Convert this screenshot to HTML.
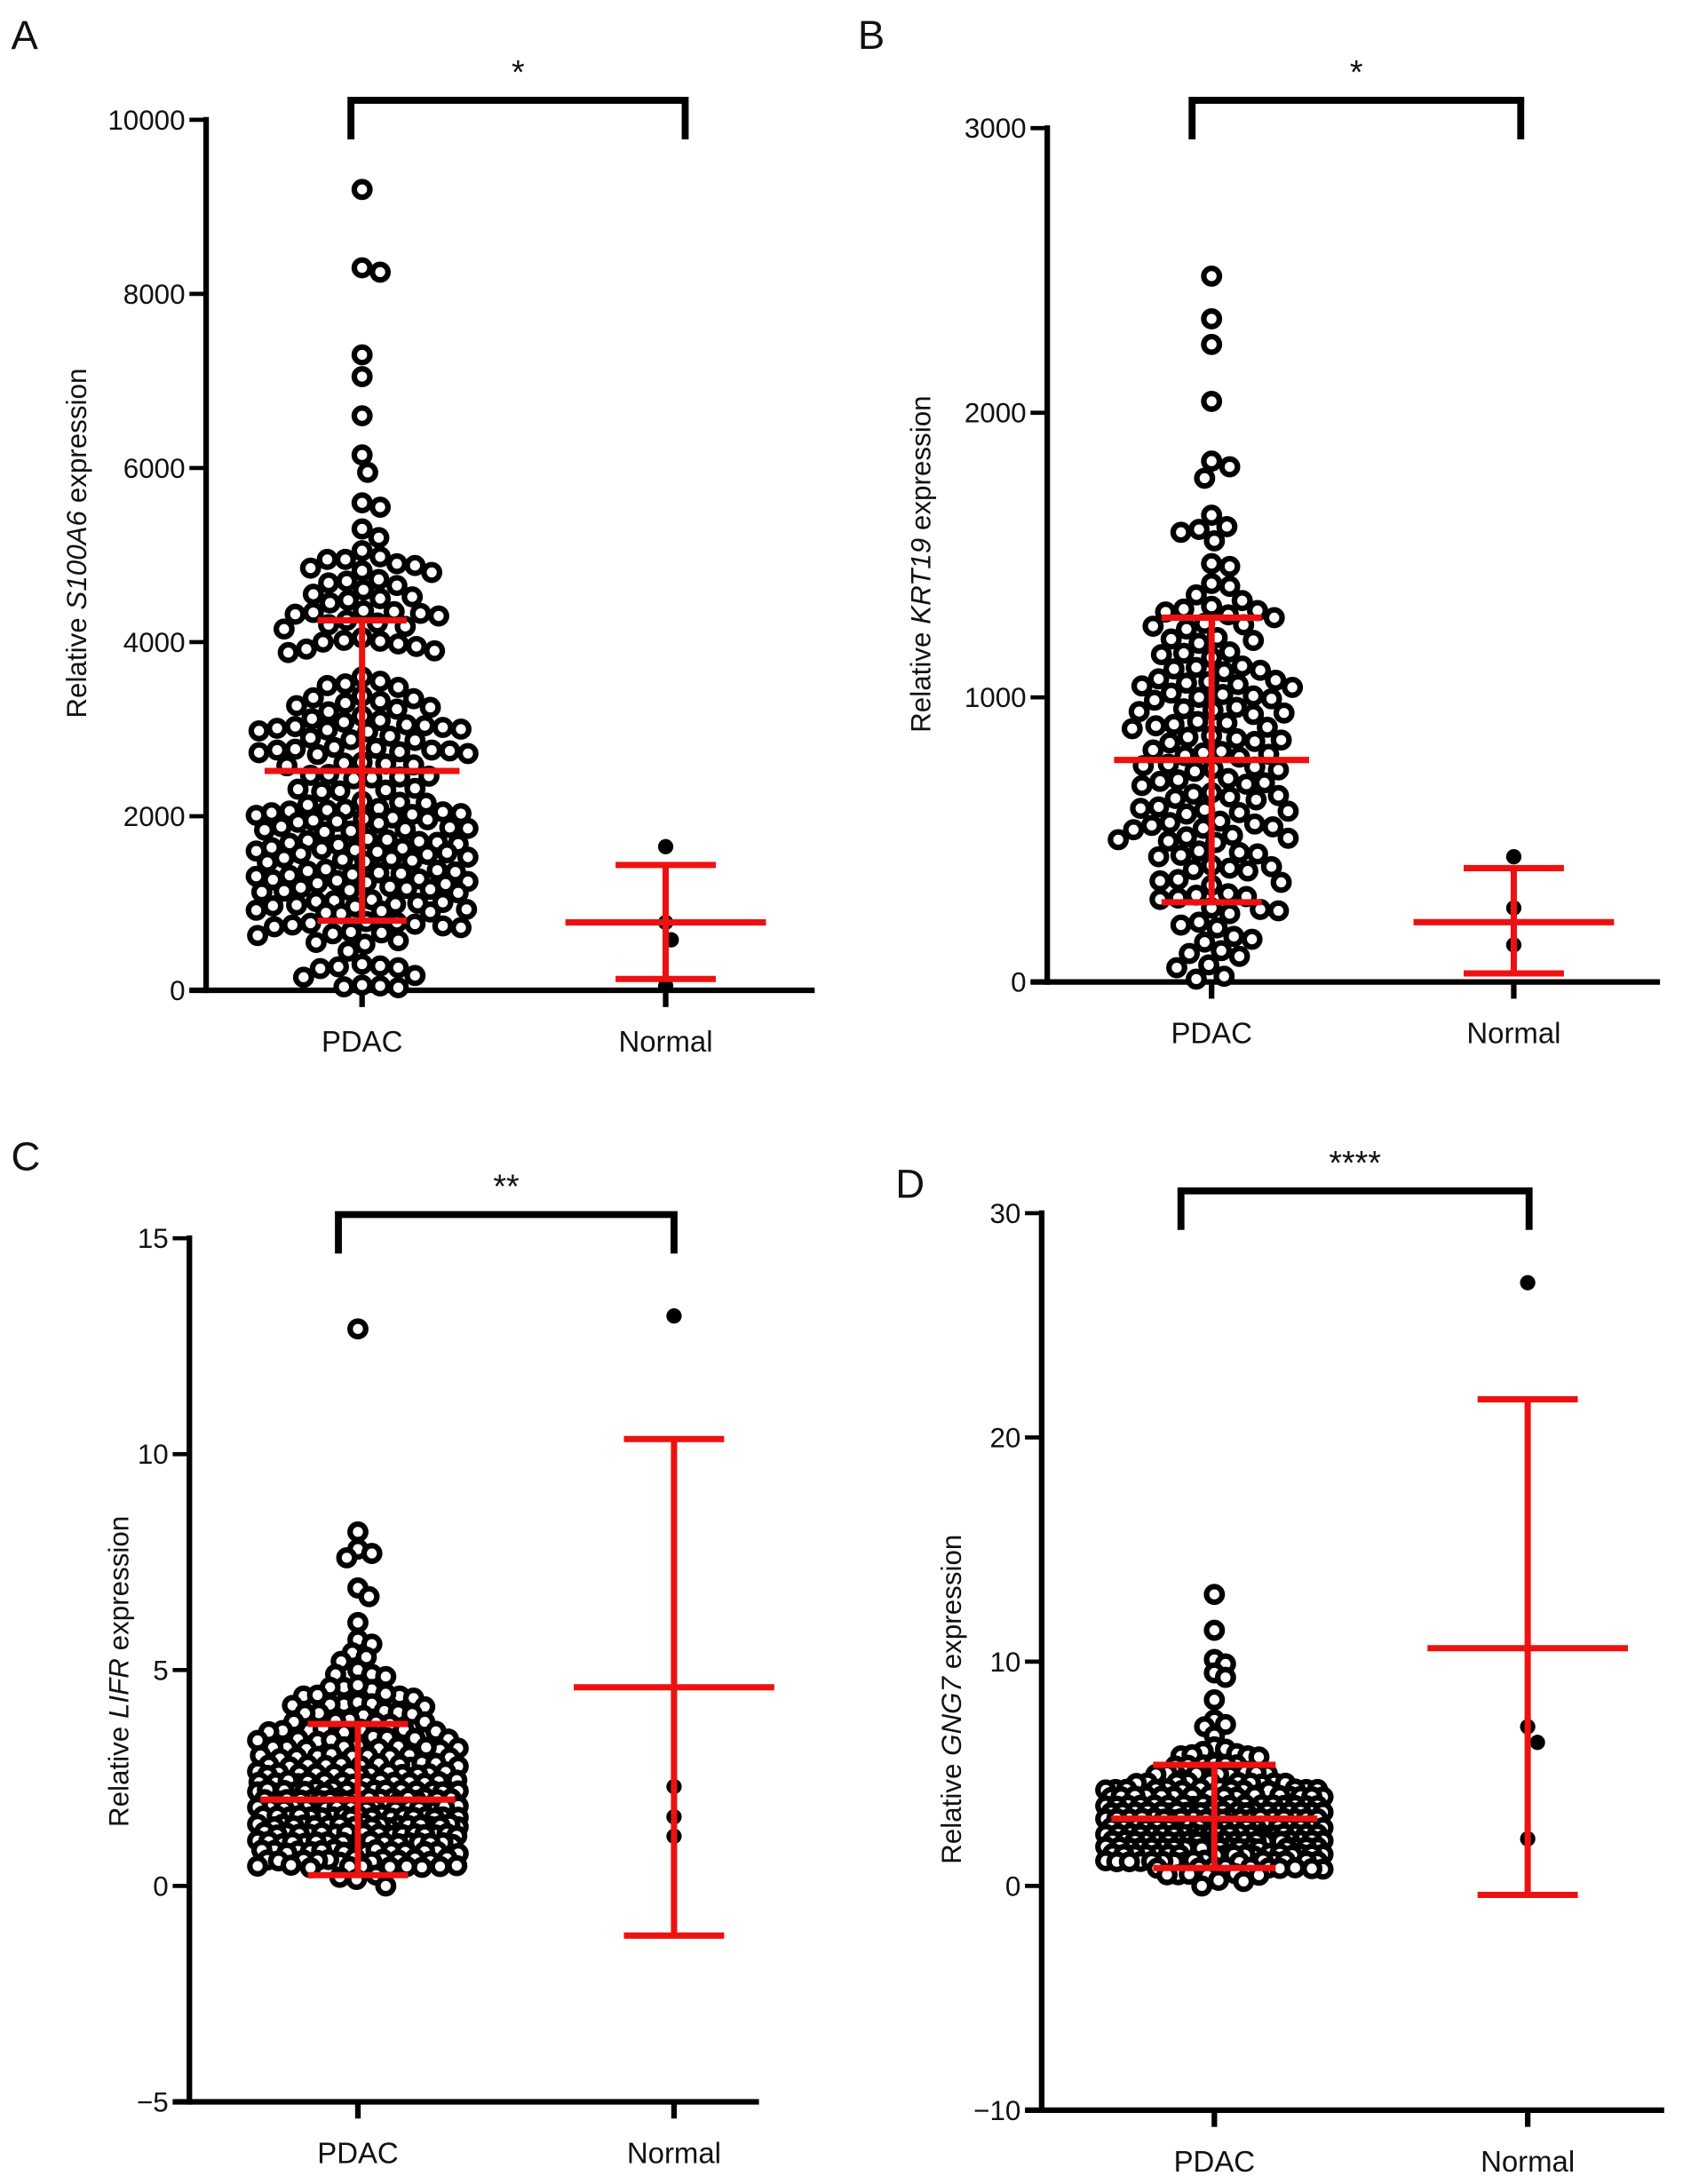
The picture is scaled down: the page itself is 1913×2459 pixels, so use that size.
<!DOCTYPE html>
<html><head><meta charset="utf-8"><style>
html,body{margin:0;padding:0;background:#fff}
svg{display:block}
text{font-family:"Liberation Sans",Arial,sans-serif;fill:#111}
</style></head><body>
<svg id="fig" xmlns="http://www.w3.org/2000/svg" width="1913" height="2459" viewBox="0 0 1220 1568" preserveAspectRatio="none"></svg>
<script>
// ---------- DATA ----------
const categories = ["PDAC","Normal"];
const pdacA = [9200,8250,8300,7300,7050,6600,6150,5950,5600,5550,5300,5200,5050,
4950,4950,4900,4980,4850,4820,4800,4880,4700,4650,4720,4680,4600,4500,4520,4480,4550,4450,4350,4330,4300,4360,4320,4340,4200,4250,4180,4220,4150,4000,4020,3980,4050,3950,4010,3900,3880,3920,3600,3550,3500,3520,3480,3350,3380,3320,3360,3300,3250,3230,3270,3200,3100,3120,3080,3150,3000,3020,2980,3050,3010,2990,3030,2970,3040,2900,2880,2920,2870,2750,2770,2730,2760,2740,2780,2720,2790,2710,2760,2600,2620,2580,2610,2590,2450,2470,2430,2460,2440,2480,2300,2320,2280,2310,2290,2150,2170,2130,2160,2050,2070,2030,2060,2040,2080,2020,2090,2010,1950,1970,1930,1960,1940,1980,1920,1850,1870,1830,1860,1840,1880,1820,1700,1720,1680,1710,1690,1730,1670,1740,1600,1620,1580,1610,1590,1630,1570,1640,1560,1500,1520,1480,1510,1490,1530,1470,1350,1370,1330,1360,1340,1380,1320,1390,1310,1250,1270,1230,1260,1240,1280,1220,1150,1170,1130,1160,1140,1180,1120,1190,1000,1020,980,1010,990,1030,970,1040,960,900,920,880,910,890,930,750,770,730,760,740,780,720,790,650,670,630,660,550,570,530,450,300,280,260,250,270,150,170,50,30,60,40];
const normalA = [1650,780,580,50];
const meanA = [2520,800,4250];      // PDAC mean, -SD, +SD
const meanNA = [780,130,1440];      // Normal mean, -SD, +SD

const pdacB = [2480,2330,2240,2040,1830,1810,1770,1640,1600,1590,1580,1550,1470,1460,1400,1390,1360,1340,
1300,1310,1290,1320,1280,1305,1250,1260,1240,1255,1200,1210,1190,1205,1150,1160,1140,1155,1100,1110,1090,1105,1095,1050,1060,1040,1055,1045,1065,1035,1000,1010,990,1005,995,1015,950,960,940,955,945,965,900,910,890,905,895,915,850,860,840,855,845,865,800,810,790,805,795,815,750,760,740,755,745,765,700,710,690,705,695,715,650,660,640,655,645,665,600,610,590,605,595,615,550,560,540,555,545,565,535,500,510,490,505,495,515,450,460,440,455,445,400,410,390,405,395,350,360,340,355,300,310,290,305,295,250,260,240,255,200,210,190,150,160,140,100,110,90,50,60,20,10];
const normalB = [440,260,130];
const meanB = [780,280,1280];
const meanNB = [210,30,400];

const pdacC = [12.9,8.2,7.8,7.7,7.6,6.9,6.7,6.1,5.7,5.6,5.4,5.3,5.2,5.0,4.9,4.9,4.85,4.6,4.6,4.55,4.65,4.4,4.4,4.35,4.45,4.42,4.2,4.2,4.15,4.25,4.22,4.18,4.0,4.0,3.95,4.05,4.02,3.98,3.8,3.8,3.75,3.85,3.82,3.78,3.6,3.6,3.55,3.65,3.62,3.58,3.63,3.57,3.4,3.4,3.35,3.45,3.42,3.38,3.43,3.37,3.2,3.2,3.15,3.25,3.22,3.18,3.23,3.17,3.21,3.19,3.0,3.0,2.95,3.05,3.02,2.98,3.03,2.97,3.01,2.99,2.8,2.8,2.75,2.85,2.82,2.78,2.83,2.77,2.81,2.79,2.84,2.76,2.6,2.6,2.55,2.65,2.62,2.58,2.63,2.57,2.61,2.59,2.64,2.56,2.6,2.6,2.4,2.4,2.35,2.45,2.42,2.38,2.43,2.37,2.41,2.39,2.44,2.36,2.4,2.4,2.42,2.38,2.2,2.2,2.15,2.25,2.22,2.18,2.23,2.17,2.21,2.19,2.24,2.16,2.2,2.2,2.22,2.18,2.21,2.19,2.0,2.0,1.95,2.05,2.02,1.98,2.03,1.97,2.01,1.99,2.04,1.96,2.0,2.0,2.02,1.98,2.01,1.99,2.03,1.97,1.8,1.8,1.75,1.85,1.82,1.78,1.83,1.77,1.81,1.79,1.84,1.76,1.8,1.8,1.82,1.78,1.81,1.79,1.83,1.77,1.6,1.6,1.55,1.65,1.62,1.58,1.63,1.57,1.61,1.59,1.64,1.56,1.6,1.6,1.62,1.58,1.61,1.59,1.63,1.57,1.4,1.4,1.35,1.45,1.42,1.38,1.43,1.37,1.41,1.39,1.44,1.36,1.4,1.4,1.42,1.38,1.41,1.39,1.43,1.37,1.2,1.2,1.15,1.25,1.22,1.18,1.23,1.17,1.21,1.19,1.24,1.16,1.2,1.2,1.22,1.18,1.21,1.19,1.0,1.0,0.95,1.05,1.02,0.98,1.03,0.97,1.01,0.99,1.04,0.96,1.0,1.0,1.02,0.98,1.01,0.99,0.8,0.8,0.75,0.85,0.82,0.78,0.83,0.77,0.81,0.79,0.84,0.76,0.8,0.8,0.82,0.6,0.6,0.55,0.65,0.62,0.58,0.63,0.57,0.61,0.59,0.64,0.56,0.6,0.45,0.45,0.42,0.48,0.46,0.44,0.47,0.43,0.45,0.45,0.2,0.25,0.15,0.0];
const normalC = [13.2,2.3,1.6,1.15];
const meanC = [2.0,0.25,3.75];
const meanNC = [4.6,-1.15,10.35];

const pdacD = [13.0,11.4,10.1,9.9,9.5,9.3,8.3,7.4,7.2,7.1,6.7,6.2,6.1,6.0,5.9,5.8,5.8,5.75,5.85,5.4,5.4,5.35,5.45,5.42,5.38,5.0,5.0,4.95,5.05,5.02,4.98,5.03,4.97,4.6,4.6,4.55,4.65,4.62,4.58,4.63,4.57,4.61,4.59,4.3,4.3,4.25,4.35,4.32,4.28,4.33,4.27,4.31,4.29,4.34,4.26,4.3,4.3,4.0,4.0,3.95,4.05,4.02,3.98,4.03,3.97,4.01,3.99,4.04,3.96,4.0,4.0,4.02,3.98,3.6,3.6,3.55,3.65,3.62,3.58,3.63,3.57,3.61,3.59,3.64,3.56,3.6,3.6,3.62,3.58,3.61,3.59,3.3,3.3,3.25,3.35,3.32,3.28,3.33,3.27,3.31,3.29,3.34,3.26,3.3,3.3,3.32,3.28,3.31,3.29,3.33,3.27,3.0,3.0,2.95,3.05,3.02,2.98,3.03,2.97,3.01,2.99,3.04,2.96,3.0,3.0,3.02,2.98,3.01,2.99,3.03,2.97,3.0,3.0,2.6,2.6,2.55,2.65,2.62,2.58,2.63,2.57,2.61,2.59,2.64,2.56,2.6,2.6,2.62,2.58,2.61,2.59,2.63,2.57,2.6,2.6,2.3,2.3,2.25,2.35,2.32,2.28,2.33,2.27,2.31,2.29,2.34,2.26,2.3,2.3,2.32,2.28,2.31,2.29,2.33,2.27,2.3,2.3,2.0,2.0,1.95,2.05,2.02,1.98,2.03,1.97,2.01,1.99,2.04,1.96,2.0,2.0,2.02,1.98,2.01,1.99,2.03,1.97,2.0,2.0,1.7,1.7,1.65,1.75,1.72,1.68,1.73,1.67,1.71,1.69,1.74,1.66,1.7,1.7,1.72,1.68,1.71,1.69,1.73,1.67,1.4,1.4,1.35,1.45,1.42,1.38,1.43,1.37,1.41,1.39,1.44,1.36,1.4,1.4,1.42,1.38,1.41,1.39,1.1,1.1,1.05,1.15,1.12,1.08,1.13,1.07,1.11,1.09,1.14,1.06,1.1,1.1,1.12,1.08,0.8,0.8,0.75,0.85,0.82,0.78,0.83,0.77,0.81,0.79,0.5,0.5,0.45,0.55,0.52,0.48,0.2,0.25,0.0];
const normalD = [26.9,7.1,6.4,2.1];
const meanD = [3.0,0.8,5.4];
const meanND = [10.6,-0.4,21.7];

const ticksA = [0,2000,4000,6000,8000,10000];
const ticksB = [0,1000,2000,3000];
const ticksC = [-5,0,5,10,15];
const ticksD = [-10,0,10,20,30];
const tickLabelsC = ["\u22125","0","5","10","15"];
const tickLabelsD = ["\u221210","0","10","20","30"];

// ---------- DRAWING ----------
const NS = "http://www.w3.org/2000/svg";
const svg = document.getElementById("fig");
function mk(tag, attrs, parent){
  const e = document.createElementNS(NS, tag);
  for (const k in attrs) e.setAttribute(k, attrs[k]);
  (parent||svg).appendChild(e);
  return e;
}

function swarm(values, yScale, cx, spacing, maxHalf){
  const placed = [];
  const order = values.map((v,i)=>i).sort((a,b)=>values[b]-values[a]);
  const out = new Array(values.length);
  for (const i of order){
    const y = yScale(values[i]);
    let best = null, bestD = -1;
    const cands = [0];
    for (let o=1; o<=maxHalf; o+=1){ cands.push(o); cands.push(-o); }
    for (const dx of cands){
      let minD = 1e9;
      for (const p of placed){
        if (Math.abs(p[1]-y) >= spacing) continue;
        const d = Math.hypot(p[0]-dx, p[1]-y);
        if (d < minD) minD = d;
      }
      if (minD >= spacing){ best = dx; bestD = 1e9; break; }
      if (minD > bestD){ bestD = minD; best = dx; }
    }
    placed.push([best, y]);
    out[i] = [cx+best, y];
  }
  return out;
}

function panel(cfg){
  const g = mk("g", {});
  
  
  const y = v => cfg.y0 + (v - cfg.ymin) / (cfg.ymax - cfg.ymin) * (cfg.y1 - cfg.y0);
  const xc = [cfg.xP, cfg.xN];

  const L = mk("text", {x:cfg.lx, y:cfg.ly, "font-size":29}, g);
  L.textContent = cfg.letter;
  
  

  const ya = mk("line", {x1:cfg.ax, y1:y(cfg.ymax)-2, x2:cfg.ax, y2:y(cfg.ymin)+2, stroke:"#000","stroke-width":4}, g);
  
  
  const xa = mk("line", {x1:cfg.ax-12, y1:y(cfg.ymin), x2:cfg.axEnd, y2:y(cfg.ymin), stroke:"#000","stroke-width":4}, g);
  
  

  cfg.ticks.forEach((t,i)=>{
    const tl = mk("line", {x1:cfg.ax-12, y1:y(t), x2:cfg.ax, y2:y(t), stroke:"#000","stroke-width":3}, g);
    
    
    const tx = mk("text", {x:cfg.ax-15, y:y(t)+7, "font-size":20, "text-anchor":"end"}, g);
    tx.textContent = cfg.tickLabels ? cfg.tickLabels[i] : String(t);
    
    
  });

  categories.forEach((c,i)=>{
    const tl = mk("line", {x1:xc[i], y1:y(cfg.ymin), x2:xc[i], y2:y(cfg.ymin)+12, stroke:"#000","stroke-width":4}, g);
    
    
    const tx = mk("text", {x:xc[i], y:y(cfg.ymin)+44, "font-size":21, "text-anchor":"middle"}, g);
    tx.textContent = c;
    
    
  });

  const tt = mk("text", {x:0, y:0, "font-size":20, "text-anchor":"middle", transform:`translate(${cfg.tx},${cfg.ty}) rotate(-90)`}, g);
  
  
  tt.appendChild(document.createTextNode("Relative "));
  const it = mk("tspan", {"font-style":"italic"}, tt);
  it.textContent = cfg.gene;
  tt.appendChild(document.createTextNode(" expression"));

  const br = mk("path", {d:`M${cfg.bx1},${cfg.by+28} V${cfg.by} H${cfg.bx2} V${cfg.by+28}`, fill:"none", stroke:"#000","stroke-width":5}, g);
  
  
  const st = mk("text", {x:(cfg.bx1+cfg.bx2)/2, y:cfg.by-12, "font-size":24, "text-anchor":"middle"}, g);
  st.textContent = cfg.stars;
  
  

  const pts = swarm(cfg.pdac, y, cfg.xP, cfg.spacing, cfg.maxHalf);
  pts.forEach(p=>{
    const c = mk("circle", {cx:p[0], cy:p[1], r:cfg.r, fill:"#fff", stroke:"#000", "stroke-width":cfg.sw}, g);
    
    
  });
  const npts = swarm(cfg.normal, y, cfg.xN, 13, 20);
  npts.forEach(p=>{
    const c = mk("circle", {cx:p[0], cy:p[1], r:5.5, fill:"#000"}, g);
    
    
  });

  function ebar(cx, m, hm, hc, nm){
    const col = "#ee1111";
    const v = mk("line", {x1:cx, y1:y(m[1]), x2:cx, y2:y(m[2]), stroke:col, "stroke-width":4.5}, g);
    
    
    const ml = mk("line", {x1:cx-hm, y1:y(m[0]), x2:cx+hm, y2:y(m[0]), stroke:col, "stroke-width":4.5}, g);
    
    
    [m[1], m[2]].forEach(vv=>{
      const cp = mk("line", {x1:cx-hc, y1:y(vv), x2:cx+hc, y2:y(vv), stroke:col, "stroke-width":4.5}, g);
      
      
    });
  }
  ebar(cfg.xP, cfg.mP, cfg.hmP, cfg.hcP, 'pdac');
  ebar(cfg.xN, cfg.mN, 72, 36, 'normal');
}

panel({name:"panel-a", letter:"A", lx:8, ly:35, ax:148, axEnd:585, y0:711, y1:86, ymin:0, ymax:10000,
  ticks:ticksA, xP:260, xN:478, tx:62, ty:390, gene:"S100A6", bx1:252, bx2:492, by:72, stars:"*",
  pdac:pdacA, normal:normalA, mP:meanA, mN:meanNA, hmP:70, hcP:32, spacing:13, maxHalf:76, r:5.6, sw:4});
panel({name:"panel-b", letter:"B", lx:616, ly:35, ax:752, axEnd:1192, y0:705, y1:92, ymin:0, ymax:3000,
  ticks:ticksB, xP:870, xN:1087, tx:668, ty:405, gene:"KRT19", bx1:856, bx2:1092, by:72, stars:"*",
  pdac:pdacB, normal:normalB, mP:meanB, mN:meanNB, hmP:70, hcP:36, spacing:13, maxHalf:74, r:5.6, sw:4});
panel({name:"panel-c", letter:"C", lx:8, ly:840, ax:136, axEnd:545, y0:1509, y1:889, ymin:-5, ymax:15,
  ticks:ticksC, tickLabels:tickLabelsC, xP:257, xN:484, tx:92, ty:1200, gene:"LIFR", bx1:243, bx2:484, by:872, stars:"**",
  pdac:pdacC, normal:normalC, mP:meanC, mN:meanNC, hmP:70, hcP:36, spacing:10, maxHalf:72, r:5.6, sw:4});
panel({name:"panel-d", letter:"D", lx:643, ly:860, ax:748, axEnd:1195, y0:1515, y1:871, ymin:-10, ymax:30,
  ticks:ticksD, tickLabels:tickLabelsD, xP:872, xN:1097, tx:690, ty:1220, gene:"GNG7", bx1:848, bx2:1098, by:855, stars:"****",
  pdac:pdacD, normal:normalD, mP:meanD, mN:meanND, hmP:74, hcP:44, spacing:8, maxHalf:78, r:5.6, sw:4});
</script>
</body></html>
